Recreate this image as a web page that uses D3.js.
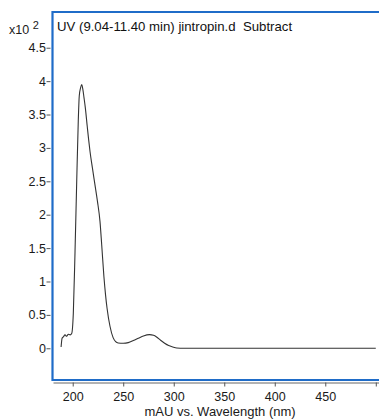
<!DOCTYPE html>
<html><head><meta charset="utf-8">
<script src="https://cdn.jsdelivr.net/npm/d3@7/dist/d3.min.js"></script>
<style>
html,body{margin:0;padding:0;background:#fff;}
svg{display:block;font-family:"Liberation Sans",Arial,sans-serif;}
</style></head>
<body>
<svg id="c" width="379" height="419"></svg>
<script>
const wavelengths = [188.5, 189.5, 190.7, 192.4, 194, 195.6, 197.5, 199, 200.6, 202.3, 204, 205.5, 206.5, 207.8, 208.9, 210, 211.2, 212.5, 214.4, 215.8, 217.1, 219.5, 222, 224.5, 227, 228.7, 230.9, 232.5, 234, 236.9, 240, 242.5, 245, 250, 255, 260, 265, 270, 276, 280, 283, 287, 291, 295, 299, 303, 310, 350, 400, 450, 500];
const absorbance = [0.02, 0.15, 0.17, 0.2, 0.18, 0.21, 0.2, 0.22, 0.52, 1.45, 2.52, 3.4, 3.78, 3.9, 3.95, 3.88, 3.75, 3.6, 3.32, 3.12, 2.95, 2.7, 2.45, 2.2, 1.9, 1.55, 1.07, 0.8, 0.6, 0.33, 0.16, 0.1, 0.08, 0.075, 0.085, 0.115, 0.15, 0.185, 0.205, 0.195, 0.17, 0.12, 0.075, 0.04, 0.02, 0.005, 0, 0, 0, 0, 0];
const xTicks = [200, 250, 300, 350, 400, 450, 500];
const xTickLabels = ["200", "250", "300", "350", "400", "450", ""];
const yTicks = [0, 0.5, 1, 1.5, 2, 2.5, 3, 3.5, 4, 4.5];
const yTickLabels = ["0", "0.5", "1", "1.5", "2", "2.5", "3", "3.5", "4", "4.5"];
const titleText = "UV (9.04-11.40 min) jintropin.d\u00a0\u00a0Subtract";
const xTitle = "mAU vs. Wavelength (nm)";

(function(){
const svg = d3.select("#c");
const pL = 52.5, pT = 12, pB = 380, pR = 396;
const x = d3.scaleLinear().domain([180, 520]).range([pL, pR]);
const y = d3.scaleLinear().domain([-0.475, 5.035]).range([pB, pT]);

const xAxis = d3.axisBottom(x).tickValues(xTicks).tickSize(4).tickFormat((d,i)=>xTickLabels[i]);
const gx = svg.append("g").attr("transform", `translate(0,${pB+2.5})`).call(xAxis);
gx.select(".domain").attr("stroke", "#666").attr("d", `M${pL+1},0.5H${pR}`);
gx.selectAll(".tick line").attr("stroke", "#555");
gx.selectAll(".tick text").attr("font-size", "12.5px").attr("fill", "#1a1a1a").attr("dy", "0.95em")
  .attr("font-family", "Liberation Sans, Arial, sans-serif");

const yAxis = d3.axisLeft(y).tickValues(yTicks).tickSize(4).tickFormat((d,i)=>yTickLabels[i]);
const gy = svg.append("g").attr("transform", `translate(${pL-2},0)`).call(yAxis);
gy.select(".domain").attr("stroke", "none");
gy.selectAll(".tick line").attr("stroke", "#555");
gy.selectAll(".tick text").attr("font-size", "12.5px").attr("fill", "#1a1a1a").attr("x", -4.5)
  .attr("font-family", "Liberation Sans, Arial, sans-serif");

svg.append("path")
  .attr("d", `M${pR+5},${pT}H${pL}V${pB}H${pR+5}`)
  .attr("fill", "none").attr("stroke", "#1f6cc8").attr("stroke-width", 2.2);

const line = d3.line().x((d,i)=>x(wavelengths[i])).y(d=>y(d)).curve(d3.curveMonotoneX);
svg.append("path").datum(absorbance).attr("d", line)
  .attr("fill", "none").attr("stroke", "#333").attr("stroke-width", 1.1);

svg.append("text").attr("x", 57).attr("y", 31).attr("font-size", "13.2px").attr("fill", "#111").text(titleText);
const mult = svg.append("text").attr("x", 9).attr("y", 34).attr("font-size", "12.5px").attr("fill", "#1a1a1a");
mult.append("tspan").text("x10 ");
mult.append("tspan").attr("dy", -5).attr("font-size", "11px").text("2");
svg.append("text").attr("x", 220).attr("y", 415.5).attr("text-anchor", "middle").attr("font-size", "13px").attr("fill", "#1a1a1a").text(xTitle);
})();
</script>
</body></html>
